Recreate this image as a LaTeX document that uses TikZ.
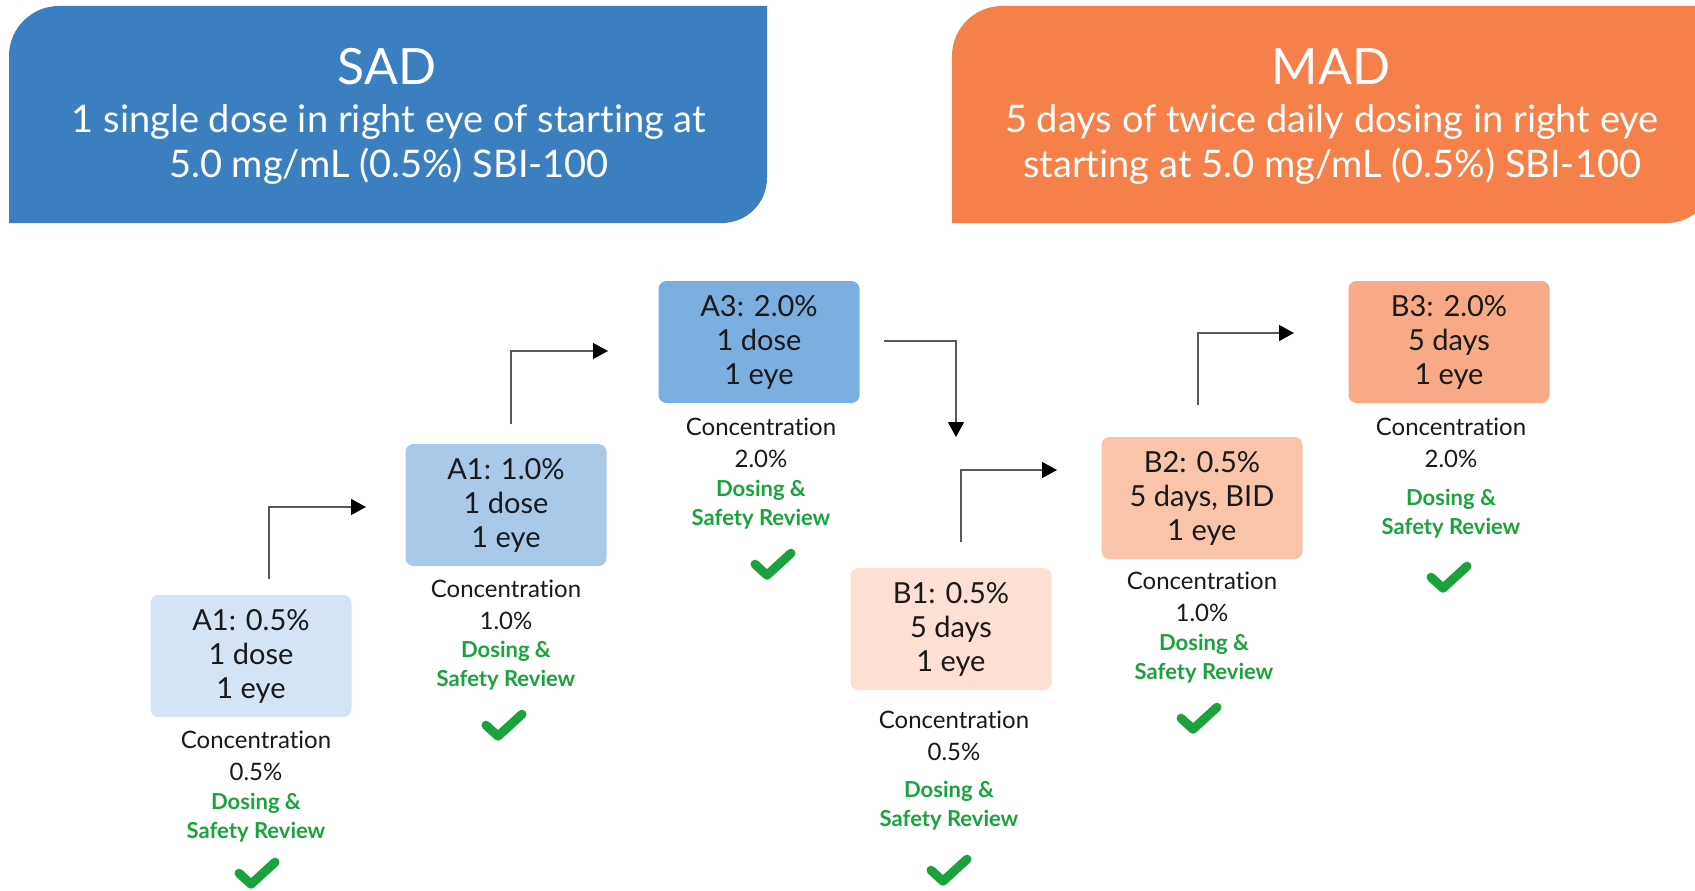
\documentclass[tikz,border=0pt]{standalone}
\usepackage{fontspec}
\setmainfont{Lato}[Ligatures=NoCommon]
\usepackage{tikz}
\usetikzlibrary{arrows.meta,positioning,calc}
\definecolor{sadblue}{HTML}{3B7FC0}
\definecolor{madorange}{HTML}{F5804A}
\definecolor{aone}{HTML}{D4E4F4}
\definecolor{atwo}{HTML}{A9C9E9}
\definecolor{athree}{HTML}{7BAFE0}
\definecolor{bone}{HTML}{FDE0D3}
\definecolor{btwo}{HTML}{FAC4A8}
\definecolor{bthree}{HTML}{F7AA85}
\definecolor{reviewgreen}{HTML}{1AA33C}
\tikzset
{
    headtitle/.style  = {text=white, font=\fontsize{50}{56}\selectfont},
    headtext/.style   = {text=white, align=center, font=\fontsize{38}{45}\selectfont},
    dosebox/.style    = {rectangle, rounded corners=8pt, align=center, minimum width=201pt, minimum height=122pt, text=black!90, font=\fontsize{29}{34}\selectfont},
    conctext/.style   = {align=center, text=black!90, font=\fontsize{24}{32}\selectfont},
    reviewtext/.style = {align=center, text=reviewgreen, font=\bfseries\fontsize{22}{29}\selectfont},
    stepline/.style   = {draw=black!65, line width=1.3pt, -{Triangle[length=15pt,width=16pt,color=black]}},
    okmark/.pic       = {\draw[reviewgreen, line width=9pt, line cap=round, line join=round] (-18,-1) -- (-6,10) -- (18,-12);}
}

\begin{document}
\begin{tikzpicture}[x=1pt, y=-1pt]
    \useasboundingbox (0,0) rectangle (1695,891);
    \clip (0,0) rectangle (1695,891);

    % header banners
    \fill[sadblue] (9,223) -- (9,56) arc[start angle=180, end angle=270, radius=50] -- (767,6) -- (767,178) arc[start angle=0, end angle=90, radius=45] -- cycle;
    \fill[madorange] (952,223) -- (952,56) arc[start angle=180, end angle=270, radius=50] -- (1712,6) -- (1712,178) arc[start angle=0, end angle=90, radius=45] -- cycle;
    \node [headtitle] (sad) at (387,67) {SAD};
    \node [headtext] (sadtext) at (389,144) {1 single dose in right eye of starting at\\5.0 mg/mL (0.5\%) SBI-100};
    \node [headtitle] (mad) at (1331,67) {MAD};
    \node [headtext] (madtext) at (1332,144) {5 days of twice daily dosing in right eye\\starting at 5.0 mg/mL (0.5\%) SBI-100};

    % cohorts
    \node [dosebox, fill=aone] (a1) at (251,656) {A1: 0.5\%\\1 dose\\1 eye};
    \node [dosebox, fill=atwo] (a2) at (506,505) {A1: 1.0\%\\1 dose\\1 eye};
    \node [dosebox, fill=athree] (a3) at (759,342) {A3: 2.0\%\\1 dose\\1 eye};
    \node [dosebox, fill=bone] (b1) at (951,629) {B1: 0.5\%\\5 days\\1 eye};
    \node [dosebox, fill=btwo] (b2) at (1202,498) {B2: 0.5\%\\5 days, BID\\1 eye};
    \node [dosebox, fill=bthree] (b3) at (1449,342) {B3: 2.0\%\\5 days\\1 eye};

    % concentration and review under each box
    \node [conctext] (a1c) at ([xshift=5pt, yshift=-39pt]a1.south) {Concentration\\0.5\%};
    \node [reviewtext] (a1r) at ([xshift=5pt, yshift=-100pt]a1.south) {Dosing \&\\Safety Review};
    \pic (a1k) at ([xshift=6pt, yshift=-157pt]a1.south) {okmark};

    \node [conctext] (a2c) at ([yshift=-39pt]a2.south) {Concentration\\1.0\%};
    \node [reviewtext] (a2r) at ([yshift=-99pt]a2.south) {Dosing \&\\Safety Review};
    \pic (a2k) at ([xshift=-2pt, yshift=-160pt]a2.south) {okmark};

    \node [conctext] (a3c) at ([xshift=2pt, yshift=-40pt]a3.south) {Concentration\\2.0\%};
    \node [reviewtext] (a3r) at ([xshift=2pt, yshift=-101pt]a3.south) {Dosing \&\\Safety Review};
    \pic (a3k) at ([xshift=14pt, yshift=-162pt]a3.south) {okmark};

    \node [conctext] (b1c) at ([xshift=3pt, yshift=-46pt]b1.south) {Concentration\\0.5\%};
    \node [reviewtext] (b1r) at ([xshift=-2pt, yshift=-115pt]b1.south) {Dosing \&\\Safety Review};
    \pic (b1k) at ([xshift=-2pt, yshift=-181pt]b1.south) {okmark};

    \node [conctext] (b2c) at ([yshift=-38pt]b2.south) {Concentration\\1.0\%};
    \node [reviewtext] (b2r) at ([xshift=2pt, yshift=-99pt]b2.south) {Dosing \&\\Safety Review};
    \pic (b2k) at ([xshift=-3pt, yshift=-160pt]b2.south) {okmark};

    \node [conctext] (b3c) at ([xshift=2pt, yshift=-40pt]b3.south) {Concentration\\2.0\%};
    \node [reviewtext] (b3r) at ([xshift=2pt, yshift=-110pt]b3.south) {Dosing \&\\Safety Review};
    \pic (b3k) at ([yshift=-175pt]b3.south) {okmark};

    % escalation arrows
    \coordinate (s1) at (269,579);  \coordinate (e1) at (366,507);
    \coordinate (s2) at (511,424);  \coordinate (e2) at (608,351);
    \coordinate (s3) at (884,341);  \coordinate (e3) at (956,437);
    \coordinate (s4) at (961,542);  \coordinate (e4) at (1057,470);
    \coordinate (s5) at (1198,405); \coordinate (e5) at (1294,333);
    \draw [stepline] (s1) |- (e1);
    \draw [stepline] (s2) |- (e2);
    \draw [stepline] (s3) -| (e3);
    \draw [stepline] (s4) |- (e4);
    \draw [stepline] (s5) |- (e5);
\end{tikzpicture}
\end{document}
